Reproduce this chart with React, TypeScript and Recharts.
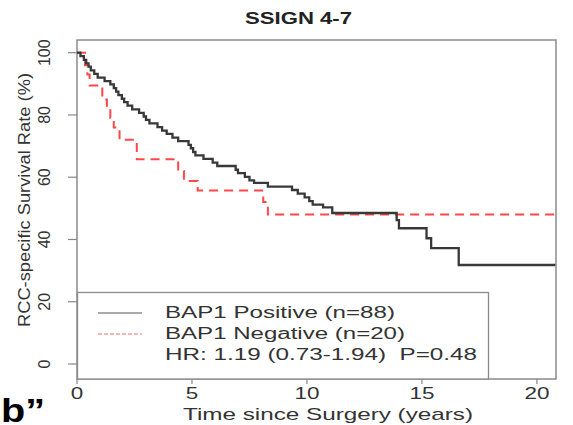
import React from 'react';
import { LineChart, Line, XAxis, YAxis, ReferenceArea } from 'recharts';

// BAP1 Positive (black solid) Kaplan-Meier readings
const posTimes = [0, 0.15, 0.3, 0.4, 0.5, 0.6, 0.75, 0.9, 1.2, 1.45, 1.6, 1.7, 1.8, 1.95, 2.05, 2.2, 2.4, 2.7, 2.9, 3.0, 3.15, 3.5, 3.7, 3.9, 4.15, 4.4, 4.85, 4.95, 5.05, 5.15, 5.5, 5.9, 6.1, 6.9, 7.0, 7.3, 7.5, 7.7, 8.3, 9.35, 9.6, 9.9, 10.1, 10.25, 10.7, 11.1, 13.9, 14.0, 15.2, 15.4, 16.6, 20.8];
const posSurv = [100, 98.9, 97.7, 96.6, 95.5, 94.3, 93.2, 92.0, 90.9, 89.8, 88.6, 87.5, 86.4, 85.2, 84.1, 83.0, 81.8, 80.7, 79.5, 78.4, 77.3, 76.1, 75.0, 73.9, 72.7, 71.6, 70.4, 69.3, 68.1, 67.0, 65.9, 64.7, 63.6, 62.4, 61.3, 60.1, 59.0, 58.2, 57.0, 55.9, 54.7, 53.5, 52.3, 51.2, 50.3, 48.5, 46.2, 43.6, 40.4, 37.2, 31.8, 31.8];

// BAP1 Negative (red dashed)
const negTimes = [0, 0.35, 0.45, 0.55, 1.1, 1.3, 1.45, 1.6, 1.85, 2.6, 4.4, 4.65, 5.25, 8.1, 8.3, 20.8];
const negSurv = [100, 96, 93, 89.5, 85, 82, 79, 76, 72, 65.8, 62, 58.8, 55.7, 52, 48, 48];

const xTicks = [0, 5, 10, 15, 20];
const yTicks = [0, 20, 40, 60, 80, 100];
const seriesNames = ['BAP1 Positive (n=88)', 'BAP1 Negative (n=20)'];
const statsText = 'HR: 1.19 (0.73-1.94)  P=0.48';
const titleText = 'SSIGN 4-7';
const xLabel = 'Time since Surgery (years)';
const yLabel = 'RCC-specific Survival Rate (%)';
const panelLabel = 'b\u201D';

const FONT = "'Liberation Sans', Arial, Helvetica, sans-serif";
const X_MAX = 20.83;
const Y_MIN = -4.82;
const Y_MAX = 104.08;
const TEXT = '#333';
const Y_TICK_BASELINE_X = 50;

const posData = posTimes.map((t, i) => ({ t, v: posSurv[i] }));
const negData = negTimes.map((t, i) => ({ t, v: negSurv[i] }));

const XTick = (props: any) => {
  const { x, y, payload } = props;
  const s = String(payload.value);
  return (
    <text x={x} y={y + 13} textAnchor="middle" fontFamily={FONT} fontSize={17} fill={TEXT}
      textLength={s.length * 12.5} lengthAdjust="spacingAndGlyphs">{s}</text>
  );
};

const YTick = (props: any) => {
  const { y, payload } = props;
  const bx = Y_TICK_BASELINE_X;
  return (
    <g transform={`translate(${bx} ${y}) rotate(-90)`}>
      <text x={0} y={0} textAnchor="middle" fontFamily={FONT} fontSize={16} fill={TEXT}>
        {String(payload.value)}
      </text>
    </g>
  );
};

export default function App() {
  return (
    <div style={{ position: 'absolute', left: 0, top: 0, width: 573, height: 425, background: '#fff', overflow: 'hidden' }}>
      <LineChart width={573} height={425} data={posData} margin={{ top: 40, right: 17, bottom: 0, left: 0 }}>
        <XAxis dataKey="t" type="number" domain={[0, X_MAX]} ticks={xTicks} height={46} allowDataOverflow
          axisLine={false} tickLine={{ stroke: '#888', strokeWidth: 1.2 }} tickSize={5} tick={<XTick />} />
        <YAxis dataKey="v" type="number" domain={[Y_MIN, Y_MAX]} ticks={yTicks} width={77} allowDataOverflow
          axisLine={false} tickLine={{ stroke: '#888', strokeWidth: 1.2 }} tickSize={9} tick={<YTick />} />
        <ReferenceArea x1={0} x2={X_MAX} y1={Y_MIN} y2={Y_MAX} fill="none" fillOpacity={0}
          stroke="#8a8a8a" strokeWidth={1.5} ifOverflow="visible" />
        <Line data={negData} dataKey="v" type="stepAfter" stroke="#ff4747" strokeWidth={2}
          strokeDasharray="9 6" dot={false} isAnimationActive={false} />
        <Line data={posData} dataKey="v" type="stepAfter" stroke="#383838" strokeWidth={2.3}
          dot={false} isAnimationActive={false} />
      </LineChart>
      <svg width={573} height={425} style={{ position: 'absolute', left: 0, top: 0, pointerEvents: 'none' }}>
        <text x={298.5} y={24} textAnchor="middle" fontFamily={FONT} fontWeight="bold" fontSize={17}
          fill="#222" textLength={107} lengthAdjust="spacingAndGlyphs">{titleText}</text>
        <text x={183} y={419.5} fontFamily={FONT} fontSize={17} fill={TEXT}
          textLength={290} lengthAdjust="spacingAndGlyphs">{xLabel}</text>
        <text x={30} y={200} transform="rotate(-90 30 200)" textAnchor="middle" fontFamily={FONT}
          fontSize={17} fill={TEXT} textLength={254} lengthAdjust="spacingAndGlyphs">{yLabel}</text>
        <rect x={77.5} y={292.5} width={411} height={86.5} fill="#fff" stroke="#8a8a8a" strokeWidth={1.3} />
        <line x1={98} x2={142} y1={313} y2={313} stroke="#555" strokeWidth={1} />
        <line x1={98} x2={142} y1={334} y2={334} stroke="#ff6b6b" strokeWidth={1} strokeDasharray="4 2" />
        <text x={165} y={318} fontFamily={FONT} fontSize={16} fill={TEXT}
          textLength={230} lengthAdjust="spacingAndGlyphs">{seriesNames[0]}</text>
        <text x={165} y={339} fontFamily={FONT} fontSize={16} fill={TEXT}
          textLength={240} lengthAdjust="spacingAndGlyphs">{seriesNames[1]}</text>
        <text x={165} y={360} fontFamily={FONT} fontSize={16} fill={TEXT} style={{ whiteSpace: 'pre' }}
          textLength={312} lengthAdjust="spacingAndGlyphs">{statsText}</text>
        <text x={1} y={422} fontFamily={FONT} fontWeight="bold" fontSize={34} fill="#000"
          textLength={44} lengthAdjust="spacingAndGlyphs">{panelLabel}</text>
      </svg>
    </div>
  );
}
